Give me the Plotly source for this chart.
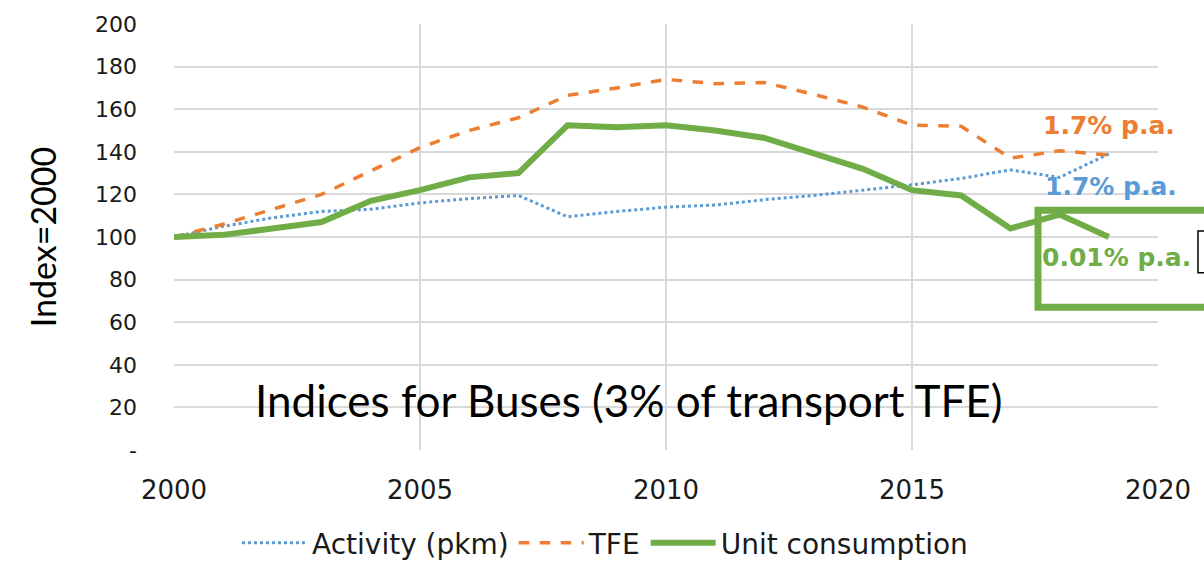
import plotly.graph_objects as go

years = list(range(2000, 2020))
activity = [100, 105, 109, 112, 113, 116, 118, 119.5, 109.5, 112, 114, 115, 117.5, 119.5, 122, 124.5, 127.5, 131.5, 128, 139]
tfe = [100, 106, 113, 120, 131, 142, 150, 156, 166.5, 170, 174, 172, 172.5, 167, 161, 152.5, 152, 137, 140.5, 138.5]
unit = [100, 101, 104, 107, 117, 122, 128, 130, 152.5, 151.5, 152.5, 150, 146.5, 139.5, 132, 122, 119.5, 104, 110.5, 100]

y_ticks = [0, 20, 40, 60, 80, 100, 120, 140, 160, 180, 200]
y_ticktext = ["-", "20", "40", "60", "80", "100", "120", "140", "160", "180", "200"]
x_ticks = [2000, 2005, 2010, 2015, 2020]

BLUE = "#5b9bd5"
ORANGE = "#ed7d31"
GREEN = "#70ad47"
FONT = "'DejaVu Sans', 'Open Sans', sans-serif"
FONT2 = "Lato, 'Noto Sans', sans-serif"

# plot area in page pixels
PL, PR, PT, PB = 174, 1158, 20, 450
W, H = 1204, 561


def px(x):
    return (x - PL) / (PR - PL)


def py(y):
    return (PB - y) / (PB - PT)


fig = go.Figure()
fig.add_trace(go.Scatter(x=years, y=activity, mode="lines", name="Activity (pkm)",
                         line=dict(color=BLUE, width=3, dash="dot")))
fig.add_trace(go.Scatter(x=years, y=tfe, mode="lines", name="TFE",
                         line=dict(color=ORANGE, width=3.5, dash="dash")))
fig.add_trace(go.Scatter(x=years, y=unit, mode="lines", name="Unit consumption",
                         line=dict(color=GREEN, width=6)))

fig.update_layout(
    width=W, height=H,
    margin=dict(l=PL, r=W - PR, t=PT, b=H - PB, pad=0),
    paper_bgcolor="white", plot_bgcolor="white",
    font=dict(family=FONT, color="#262626", size=20),
    showlegend=True,
    legend=dict(orientation="h", xref="container", x=605 / W, xanchor="center",
                yref="container", y=(H - 543) / H, yanchor="middle",
                font=dict(size=28, color="#1a1a1a", family=FONT), itemwidth=65,
                bgcolor="rgba(0,0,0,0)"),
    xaxis=dict(range=[2000, 2020], tickvals=x_ticks, showgrid=True, gridcolor="#d9d9d9",
               gridwidth=2, zeroline=False, showline=False, ticks="",
               tickfont=dict(size=26, color="#1a1a1a", family=FONT), ticklabelstandoff=22,
               ticklabeloverflow="allow"),
    yaxis=dict(range=[0, 200], tickvals=y_ticks, ticktext=y_ticktext, showgrid=True,
               gridcolor="#d9d9d9", gridwidth=2, zeroline=False, showline=False, ticks="",
               tickfont=dict(size=22, color="#1a1a1a", family=FONT), ticklabelstandoff=36,
               ticklabeloverflow="allow",
               title=dict(text="Index=2000", font=dict(size=34, color="black", family=FONT2),
                          standoff=28)),
)

fig.add_annotation(x=px(628), y=py(400), xref="paper", yref="paper", xanchor="center", yanchor="middle",
                   text="Indices for Buses (3% of transport TFE)",
                   showarrow=False, font=dict(size=44, color="black", family=FONT2))
fig.add_annotation(x=px(1041), y=py(122), xref="paper", yref="paper", xanchor="left", yanchor="middle",
                   text="<b>1.7% p.a.</b>",
                   showarrow=False, font=dict(size=25, color=ORANGE, family=FONT))
fig.add_annotation(x=px(1043), y=py(184), xref="paper", yref="paper", xanchor="left", yanchor="middle",
                   text="<b>1.7% p.a.</b>",
                   showarrow=False, font=dict(size=25, color=BLUE, family=FONT))
fig.add_annotation(x=px(1040), y=py(256), xref="paper", yref="paper", xanchor="left", yanchor="middle",
                   text="<b>0.01% p.a.</b>",
                   showarrow=False, font=dict(size=25, color=GREEN, family=FONT))

fig.add_shape(type="rect", xref="paper", yref="paper",
              x0=px(1038), x1=px(1225), y0=py(306), y1=py(208),
              line=dict(color=GREEN, width=7), fillcolor="rgba(0,0,0,0)", layer="above")
fig.add_shape(type="rect", xref="paper", yref="paper",
              x0=px(1198), x1=px(1225), y0=py(271), y1=py(229),
              line=dict(color="black", width=1.5), fillcolor="rgba(0,0,0,0)", layer="above")

fig.write_html("out.html", config={"displayModeBar": False},
               post_script="document.body.style.margin='0';document.body.style.overflow='hidden';")
